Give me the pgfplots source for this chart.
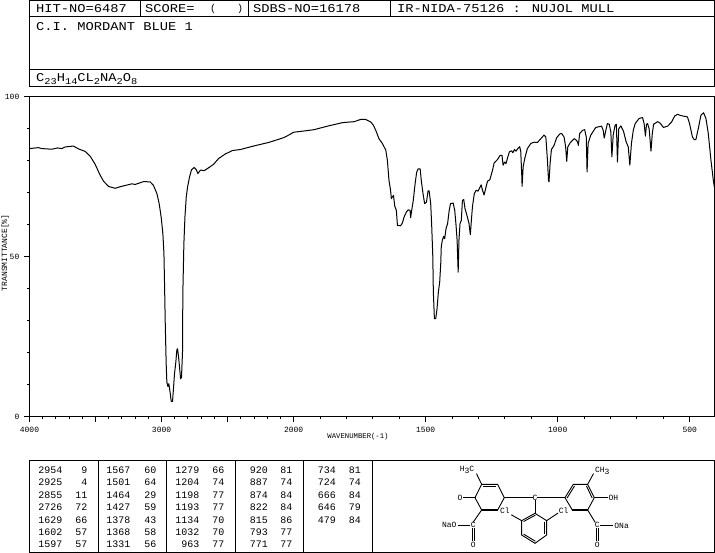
\documentclass[border=0pt]{standalone}
\usepackage{fontspec}
\usepackage{pgfplots}
\usepackage{pgfplotstable}
\pgfplotsset{compat=1.18}
\newfontfamily\crthead{Liberation Mono}[FakeStretch=1.15]
\newfontfamily\crtmono{Liberation Mono}
\newcommand{\fhead}{\crthead\fontsize{12}{12}\selectfont}
\newcommand{\ftab}{\crtmono\fontsize{10}{10}\selectfont}
\newcommand{\fsmall}{\crtmono\fontsize{8}{8}\selectfont}
\newcommand{\fxlab}{\crtmono\fontsize{7.3}{7.3}\selectfont}
\newcommand{\sub}[1]{\raisebox{-0.25em}{\fontsize{9}{9}\selectfont #1}}
\newcommand{\cell}[3]{\node[anchor=east,inner sep=0pt] at (#1,#2) {\ftab #3};}
\pgfplotstableread{
w T
4000 83.8
3932 84.1
3907 83.8
3831 83.6
3788 84.0
3755 83.8
3730 84.3
3667 84.6
3629 83.7
3578 82.9
3540 81.4
3503 78.9
3465 75.5
3439 73.6
3402 72.0
3351 71.4
3313 71.9
3225 72.8
3200 72.6
3136 73.5
3086 73.4
3061 72.3
3035 69.7
3018 66.6
3003 62.4
2990 57.2
2982 51.0
2977 40.6
2972 29.1
2965 16.6
2960 10.9
2952 9.5
2945 10.4
2934 7.3
2927 4.9
2917 4.9
2909 9.3
2902 13.5
2892 17.1
2884 21.0
2879 21.3
2871 18.7
2864 15.6
2856 11.9
2849 12.4
2841 20.8
2839 38.5
2831 54.1
2823 62.4
2813 68.7
2803 71.8
2788 75.0
2773 77.2
2753 77.9
2737 77.2
2725 76.0
2705 77.1
2677 76.9
2644 77.8
2606 78.9
2568 80.7
2518 82.1
2462 83.2
2404 83.5
2303 84.6
2190 85.7
2076 87.2
2038 88.0
2000 88.9
1960 89.3
1923 89.7
1872 90.8
1815 91.9
1771 92.2
1746 92.9
1727 92.9
1708 92.1
1698 91.1
1689 89.5
1677 86.9
1664 85.4
1651 83.3
1645 80.1
1639 73.9
1633 70.8
1630 68.2
1622 69.2
1617 65.8
1611 64.5
1607 59.8
1595 59.7
1588 60.6
1582 62.4
1573 64.0
1566 64.7
1559 64.5
1557 62.2
1554 64.0
1547 67.6
1540 72.9
1534 76.5
1528 77.5
1521 77.5
1516 73.4
1510 69.7
1504 66.6
1497 67.1
1491 70.6
1487 70.6
1481 66.6
1477 59.3
1473 49.9
1471 39.0
1467 30.7
1462 30.7
1457 33.8
1452 39.0
1447 42.1
1443 47.9
1441 53.1
1437 55.2
1432 56.4
1428 55.7
1423 58.8
1417 60.4
1411 64.5
1406 66.6
1396 66.8
1390 64.5
1385 59.8
1381 55.2
1377 45.2
1374 55.2
1370 60.4
1365 61.4
1361 67.6
1356 67.9
1351 65.0
1342 62.4
1336 60.4
1331 56.9
1327 61.4
1323 65.6
1316 69.7
1309 70.8
1302 70.5
1295 71.6
1290 72.5
1285 70.8
1279 69.3
1273 71.3
1266 73.6
1257 74.1
1247 77.0
1241 79.3
1228 80.4
1218 81.7
1211 81.7
1207 78.6
1201 79.6
1196 79.1
1189 81.2
1183 82.8
1175 83.1
1170 82.5
1164 83.5
1158 83.0
1151 83.8
1144 84.4
1140 82.8
1136 74.9
1135 72.0
1131 78.1
1125 80.7
1115 83.8
1102 85.4
1089 85.8
1077 85.7
1064 86.9
1052 88.0
1045 87.4
1039 80.1
1035 73.9
1033 73.4
1029 79.1
1024 83.5
1014 84.8
1004 87.2
992 88.4
985 88.5
976 87.4
970 84.3
966 79.8
962 84.3
953 85.6
938 86.9
932 86.6
925 85.9
922 84.8
917 88.5
906 89.5
898 89.7
892 87.4
889 76.5
885 85.4
875 88.0
856 90.4
834 90.8
828 89.5
824 87.1
818 89.5
812 91.6
805 91.4
799 89.0
795 81.2
790 88.0
783 91.1
778 91.4
774 79.6
769 90.0
761 90.9
751 89.2
741 85.9
733 84.3
727 78.6
721 85.4
714 89.5
707 91.6
692 93.2
679 93.5
673 91.6
668 87.7
664 91.4
660 91.6
654 90.0
647 83.0
642 88.5
637 91.4
622 92.2
613 91.8
600 90.4
584 90.8
569 92.1
557 94.0
546 94.5
534 94.1
509 93.7
501 91.6
490 87.4
483 86.6
477 86.6
468 90.0
458 94.2
448 95.0
439 93.2
430 88.5
420 80.2
411 73.9
407 71.8
}\spectrum
\begin{document}
\begin{tikzpicture}[line width=1bp,line cap=rect]
\useasboundingbox (0,0) rectangle (715bp,553bp);
\begin{axis}[
  at={(29.5bp,136bp)},anchor=south west,
  scale only axis,width=685bp,height=320.3bp,
  x coord trafo/.code={\pgfmathparse{#1>1999.5 ? 4000-#1 : 6000-2*#1}},
  xmin=4000,xmax=406.5,ymin=0,ymax=100,
  xtick={4000,3500,3000,2500,2000,1500,1000,500},
  xticklabels={4000,,3000,,2000,1500,1000,500},
  minor xtick={3900,3800,3700,3600,3400,3300,3200,3100,2900,2800,2700,2600,2400,2300,2200,2100,1900,1800,1700,1600,1400,1300,1200,1100,900,800,700,600},
  ytick={0,50,100},yticklabels={0,50,100},
  minor ytick={10,20,30,40,60,70,80,90},
  xtick pos=bottom,ytick pos=left,tick align=outside,
  major tick length=5bp,minor tick length=2.5bp,
  every tick/.style={black,line width=1bp},
  every minor tick/.style={black,line width=1bp},
  axis line style={line width=1bp,black},
  tick label style={font=\fsmall,inner sep=0pt},
  yticklabel style={xshift=-5bp},
  xticklabel style={yshift=-5bp},
  xlabel={WAVENUMBER(-1)},ylabel={TRANSMITTANCE[\%]},
  every axis x label/.style={at={(axis description cs:0.4796,0)},anchor=center,yshift=-20bp,font=\fxlab},
  every axis y label/.style={at={(axis description cs:0,0.5125)},anchor=center,rotate=90,yshift=24.5bp,font=\fsmall},
]
\addplot[black,line width=1bp,line join=round] table[x=w,y=T] {\spectrum};
\end{axis}
\begin{scope}[shift={(0,553bp)},x=1bp,y=-1bp]
  % header box
  \draw (29.5,0.5) rectangle (714.5,87);
  \draw (29.5,17) -- (714.5,17);
  \draw (29.5,69.5) -- (714.5,69.5);
  \draw (140.5,0.5) -- (140.5,17);
  \draw (248.5,0.5) -- (248.5,17);
  \draw (390.5,0.5) -- (390.5,17);
  \node[anchor=west,inner sep=0pt] at (36,9) {\fhead HIT-NO=6487};
  \node[anchor=west,inner sep=0pt] at (145,9) {\fhead SCORE=};
  \node[inner sep=0pt] at (213,9) {\ftab (};
  \node[inner sep=0pt] at (240,9) {\ftab )};
  \node[anchor=west,inner sep=0pt] at (253,9) {\fhead SDBS-NO=16178};
  \node[anchor=west,inner sep=0pt] at (397,9) {\fhead IR-NIDA-75126 : NUJOL MULL};
  \node[anchor=west,inner sep=0pt] at (36,27) {\fhead C.I. MORDANT BLUE 1};
  \node[anchor=west,inner sep=0pt] at (36,79) {\fhead C\sub{23}H\sub{14}CL\sub{2}NA\sub{2}O\sub{8}};
  % peak table box
  \draw (29.5,460.7) rectangle (372.5,552.5);
  \foreach \xx in {98.5,166.5,235.5,303.5} \draw (\xx,460.7) -- (\xx,552.5);
  \draw (372.5,460.7) rectangle (714.5,552.5);
  \def\ya{470}\def\yb{482}\def\yc{495}\def\yd{507}\def\ye{520}\def\yf{532}\def\yg{544}
  \cell{62.5}{\ya}{2954}\cell{87.5}{\ya}{9}
  \cell{62.5}{\yb}{2925}\cell{87.5}{\yb}{4}
  \cell{62.5}{\yc}{2855}\cell{87.5}{\yc}{11}
  \cell{62.5}{\yd}{2726}\cell{87.5}{\yd}{72}
  \cell{62.5}{\ye}{1629}\cell{87.5}{\ye}{66}
  \cell{62.5}{\yf}{1602}\cell{87.5}{\yf}{57}
  \cell{62.5}{\yg}{1597}\cell{87.5}{\yg}{57}
  \cell{130.5}{\ya}{1567}\cell{156.5}{\ya}{60}
  \cell{130.5}{\yb}{1501}\cell{156.5}{\yb}{64}
  \cell{130.5}{\yc}{1464}\cell{156.5}{\yc}{29}
  \cell{130.5}{\yd}{1427}\cell{156.5}{\yd}{59}
  \cell{130.5}{\ye}{1378}\cell{156.5}{\ye}{43}
  \cell{130.5}{\yf}{1368}\cell{156.5}{\yf}{58}
  \cell{130.5}{\yg}{1331}\cell{156.5}{\yg}{56}
  \cell{199.5}{\ya}{1279}\cell{224.5}{\ya}{66}
  \cell{199.5}{\yb}{1204}\cell{224.5}{\yb}{74}
  \cell{199.5}{\yc}{1198}\cell{224.5}{\yc}{77}
  \cell{199.5}{\yd}{1193}\cell{224.5}{\yd}{77}
  \cell{199.5}{\ye}{1134}\cell{224.5}{\ye}{70}
  \cell{199.5}{\yf}{1032}\cell{224.5}{\yf}{70}
  \cell{199.5}{\yg}{963}\cell{224.5}{\yg}{77}
  \cell{268}{\ya}{920}\cell{292.5}{\ya}{81}
  \cell{268}{\yb}{887}\cell{292.5}{\yb}{74}
  \cell{268}{\yc}{874}\cell{292.5}{\yc}{84}
  \cell{268}{\yd}{822}\cell{292.5}{\yd}{84}
  \cell{268}{\ye}{815}\cell{292.5}{\ye}{86}
  \cell{268}{\yf}{793}\cell{292.5}{\yf}{77}
  \cell{268}{\yg}{771}\cell{292.5}{\yg}{77}
  \cell{336}{\ya}{734}\cell{361}{\ya}{81}
  \cell{336}{\yb}{724}\cell{361}{\yb}{74}
  \cell{336}{\yc}{666}\cell{361}{\yc}{84}
  \cell{336}{\yd}{646}\cell{361}{\yd}{79}
  \cell{336}{\ye}{479}\cell{361}{\ye}{84}
\end{scope}
% structure, in 3x coordinates of the crop starting at (370,450)
\begin{scope}[shift={(370bp,103bp)},x=0.3333bp,y=-0.3333bp,line width=0.9bp]
  % left ring
  \draw (335,103) -- (383,103) -- (403,143) -- (383,180) -- (335,180) -- (315,143) -- cycle;
  \draw (340,109) -- (378,109);
  \draw[line width=1.6bp] (335,180) -- (383,180);
  \draw[line width=1.6bp] (315,143) -- (280,143);
  \draw (335,103) -- (320,72);
  \draw (403,143) -- (487,143);
  \draw (335,180) -- (310,216);
  \draw (298,226) -- (265,226);
  \draw (306,236) -- (306,272);
  \draw (313,236) -- (313,272);
  % right ring
  \draw (585,143) -- (610,103) -- (653,103) -- (673,143) -- (653,180) -- (607,180) -- cycle;
  \draw (592,143) -- (613,109);
  \draw (650,109) -- (666,143);
  \draw[line width=1.6bp] (607,180) -- (653,180);
  \draw (653,103) -- (670,72);
  \draw (673,143) -- (712,143);
  \draw (503,143) -- (585,143);
  \draw (653,180) -- (675,216);
  \draw (692,226) -- (728,226);
  \draw (679,236) -- (679,272);
  \draw (686,236) -- (686,272);
  % lower ring
  \draw (495,190) -- (530,212) -- (530,255) -- (495,280) -- (455,255) -- (455,212) -- cycle;
  \draw (462,214) -- (495,196);
  \draw (462,253) -- (495,273);
  \draw (524,216) -- (524,251);
  \draw (495,152) -- (495,190);
  \draw (455,212) -- (425,195);
  \draw (530,212) -- (563,190);
  % atom labels
  \node[inner sep=0pt] at (291,60) {\fsmall H\raisebox{-0.2em}{3}C};
  \node[inner sep=0pt] at (697,62) {\fsmall CH\raisebox{-0.2em}{3}};
  \node[inner sep=0pt] at (270,143) {\fsmall O};
  \node[inner sep=0pt] at (495,143) {\fsmall C};
  \node[inner sep=0pt] at (730,143) {\fsmall OH};
  \node[inner sep=0pt] at (405,183) {\fsmall Cl};
  \node[inner sep=0pt] at (581,183) {\fsmall Cl};
  \node[inner sep=0pt] at (238,225) {\fsmall NaO};
  \node[inner sep=0pt] at (310,225) {\fsmall C};
  \node[inner sep=0pt] at (682,225) {\fsmall C};
  \node[inner sep=0pt] at (755,228) {\fsmall ONa};
  \node[inner sep=0pt] at (310,285) {\fsmall O};
  \node[inner sep=0pt] at (682,285) {\fsmall O};
\end{scope}
\end{tikzpicture}
\end{document}
